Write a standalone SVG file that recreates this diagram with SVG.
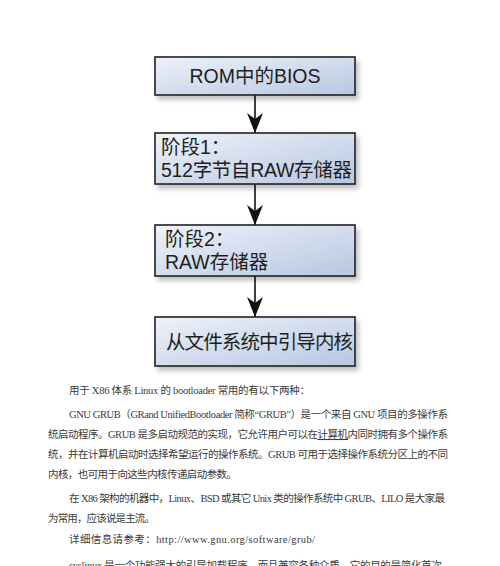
<svg xmlns="http://www.w3.org/2000/svg" width="500" height="566" viewBox="0 0 500 566">
<defs>
<linearGradient id="bg" x1="0" y1="0" x2="1" y2="1">
<stop offset="0" stop-color="#eef2fa"/>
<stop offset="1" stop-color="#b7c7e1"/>
</linearGradient>
<filter id="sh" x="-10%" y="-20%" width="130%" height="160%">
<feDropShadow dx="3" dy="4" stdDeviation="2.5" flood-color="#000" flood-opacity="0.25"/>
</filter>
<marker id="ah" viewBox="0 0 20 16" refX="20" refY="8" markerWidth="20" markerHeight="16" markerUnits="userSpaceOnUse" orient="auto">
<path d="M0,0 L6,8 L0,16 L20,8 Z" fill="#111"/>
</marker>
</defs>
<style>
.box{fill:url(#bg);stroke:#222;stroke-width:1.6;filter:url(#sh)}
.bt{font-family:"Liberation Sans","Noto Sans CJK SC",sans-serif;font-size:19.5px;fill:#1e1e1e}
.tx{font-family:"Liberation Serif","Noto Sans CJK SC",serif;font-size:10.5px;fill:#3a3a3a}
.con{stroke:#111;stroke-width:1.6;fill:none;marker-end:url(#ah)}
</style>
<rect width="500" height="566" fill="#fff"/>
<g id="connectors">
<line class="con" x1="255" y1="95" x2="255" y2="133"/>
<line class="con" x1="255" y1="184" x2="255" y2="225"/>
<line class="con" x1="255" y1="276" x2="255" y2="317"/>
</g>
<g id="n1">
<rect class="box" x="155" y="57" width="200" height="38"/>
<text class="bt" x="255" y="83" text-anchor="middle">ROM中的BIOS</text>
</g>
<g id="n2">
<rect class="box" x="155" y="133" width="200" height="51"/>
<text class="bt" x="161" y="154">阶段1：</text>
<text class="bt" x="161" y="177" textLength="191">512字节自RAW存储器</text>
</g>
<g id="n3">
<rect class="box" x="155" y="225" width="200" height="51"/>
<text class="bt" x="165" y="246">阶段2：</text>
<text class="bt" x="165" y="269">RAW存储器</text>
</g>
<g id="n4">
<rect class="box" x="155" y="317" width="200" height="49"/>
<text class="bt" x="166" y="349" textLength="187">从文件系统中引导内核</text>
</g>
<g id="body">
<text class="tx" x="69" y="394" textLength="241">用于 X86 体系 Linux 的 bootloader 常用的有以下两种：</text>
<text class="tx" x="69" y="418" textLength="379">GNU GRUB（GRand UnifiedBootloader 简称“GRUB”）是一个来自 GNU 项目的多操作系</text>
<text class="tx" x="48" y="438" textLength="400">统启动程序。GRUB 是多启动规范的实现，它允许用户可以在<tspan text-decoration="underline">计算机</tspan>内同时拥有多个操作系</text>
<text class="tx" x="48" y="458" textLength="400">统，并在计算机启动时选择希望运行的操作系统。GRUB 可用于选择操作系统分区上的不同</text>
<text class="tx" x="48" y="478" textLength="189">内核，也可用于向这些内核传递启动参数。</text>
<text class="tx" x="69" y="502" textLength="376">在 X86 架构的机器中，Linux、BSD 或其它 Unix 类的操作系统中 GRUB、LILO 是大家最</text>
<text class="tx" x="48" y="522" textLength="107">为常用，应该说是主流。</text>
<text class="tx" x="69" y="543" textLength="246">详细信息请参考：http://www.gnu.org/software/grub/</text>
<text class="tx" x="69" y="569" textLength="373">syslinux 是一个功能强大的引导加载程序，而且兼容各种介质，它的目的是简化首次</text>
</g>
</svg>
